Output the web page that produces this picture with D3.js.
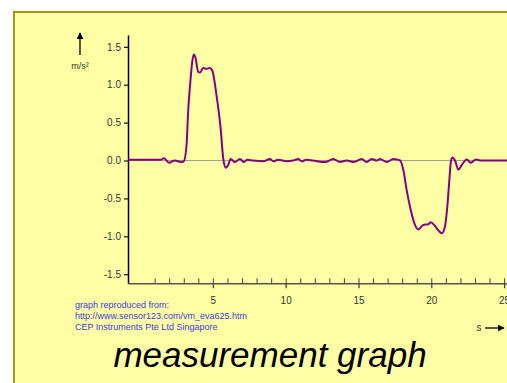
<!DOCTYPE html>
<html>
<head>
<meta charset="utf-8">
<script src="https://cdn.jsdelivr.net/npm/d3@7"></script>
<style>
  html, body { margin: 0; padding: 0; background: #fff; }
  svg { display: block; font-family: "Liberation Sans", Arial, sans-serif; }
</style>
</head>
<body>
<div id="chart"></div>
<script>
// time (s) and acceleration (m/s²)
const time = [-0.83, 1.4, 1.65, 1.98, 2.39, 2.8, 3.0, 3.19, 3.3, 3.47, 3.58, 3.69, 3.8, 3.99, 4.11,
  4.33, 4.57, 4.79, 4.95, 5.25, 5.53, 5.71, 5.89, 6.05, 6.22, 6.51, 6.86, 7.13, 7.36, 7.75,
  8.46, 8.92, 9.15, 9.49, 10.06, 10.5, 10.86, 11.1, 11.44, 11.87, 12.7, 13.27, 13.73, 14.19,
  14.64, 15.22, 15.56, 15.91, 16.25, 16.48, 16.94, 17.39, 17.86, 18.08, 18.31, 18.54, 18.88,
  19.11, 19.45, 19.8, 19.96, 20.26, 20.48, 20.72, 20.94, 21.1, 21.24, 21.36, 21.47, 21.63,
  21.86, 22.09, 22.44, 22.71, 23.08, 23.35, 25.2];
const accel = [0.01, 0.01, 0.03, -0.03, 0.0, -0.02, -0.01, 0.2, 0.64, 1.08, 1.30, 1.40, 1.36, 1.17, 1.16,
  1.22, 1.21, 1.22, 1.19, 0.86, 0.43, 0.03, -0.095, -0.06, 0.02, -0.02, 0.02, -0.02, 0.01, 0.0,
  -0.01, 0.02, -0.01, 0.01, -0.01, 0.0, 0.02, -0.01, 0.01, 0.0, -0.02, 0.02, -0.02, 0.0,
  -0.02, 0.02, -0.02, 0.02, 0.0, 0.02, -0.02, 0.02, 0.0, -0.125, -0.39, -0.61, -0.85,
  -0.91, -0.85, -0.84, -0.815, -0.865, -0.92, -0.96, -0.87, -0.61, -0.26, 0.0, 0.04, 0.0,
  -0.12, -0.06, 0.015, -0.03, 0.015, 0.0, 0.0];

const yTicks = [-1.5, -1.0, -0.5, 0.0, 0.5, 1.0, 1.5];
const xMajor = [5, 10, 15, 20, 25];
const xMinor = [1, 2, 3, 4, 6, 7, 8, 9, 11, 12, 13, 14, 16, 17, 18, 19, 21, 22, 23, 24];
const sourceLines = ["graph reproduced from:", "http://www.sensor123.com/vm_eva625.htm", "CEP Instruments Pte Ltd Singapore"];

const width = 507, height = 383;

const svg = d3.select('#chart').append('svg')
  .attr('width', width)
  .attr('height', height);

svg.append('defs').append('marker')
  .attr('id', 'arr')
  .attr('viewBox', '0 0 10 10')
  .attr('refX', 9).attr('refY', 5)
  .attr('markerWidth', 7).attr('markerHeight', 7)
  .attr('markerUnits', 'userSpaceOnUse')
  .attr('orient', 'auto')
  .append('path').attr('d', 'M0,0L10,5L0,10Z').attr('fill', '#000');

// yellow panel
svg.append('rect')
  .attr('x', 14).attr('y', 12)
  .attr('width', 520).attr('height', 400)
  .attr('fill', '#ffffa6')
  .attr('stroke', '#9c9c1c')
  .attr('stroke-width', 2);

const x = d3.scaleLinear().domain([-0.83, 25.2]).range([128, 507]);
const y = d3.scaleLinear().domain([-1.62, 1.656]).range([283.3, 35]);

// zero line
svg.append('line')
  .attr('x1', x(-0.83)).attr('x2', width)
  .attr('y1', y(0)).attr('y2', y(0))
  .attr('stroke', '#a0a0a0').attr('stroke-width', 1.2);

// y axis
const yAxis = svg.append('g')
  .attr('transform', 'translate(128,0)')
  .call(d3.axisLeft(y).tickValues(yTicks).tickSize(4).tickSizeOuter(0).tickPadding(3)
    .tickFormat(d => d.toFixed(1)));
yAxis.select('.domain').attr('stroke', '#000').attr('stroke-width', 1.5);
yAxis.selectAll('.tick line').attr('stroke', '#222').attr('stroke-width', 1.3);
yAxis.selectAll('text').attr('font-size', 10).attr('fill', '#333')
  .attr('font-family', '"Liberation Sans", Arial, sans-serif');

// x axis: majors cross the line, minors stand above it
const xAxisY = 283.3;
const xMin = svg.append('g')
  .attr('transform', `translate(0,${xAxisY})`)
  .call(d3.axisTop(x).tickValues(xMinor.concat(xMajor)).tickSize(5).tickSizeOuter(0).tickFormat(''));
xMin.select('.domain').attr('stroke', '#555').attr('stroke-width', 1.5);
xMin.selectAll('.tick line').attr('stroke', '#444').attr('stroke-width', 1);

const xMaj = svg.append('g')
  .attr('transform', `translate(0,${xAxisY})`)
  .call(d3.axisBottom(x).tickValues(xMajor).tickSize(5).tickSizeOuter(0).tickPadding(9));
xMaj.select('.domain').remove();
xMaj.selectAll('.tick line').attr('stroke', '#444').attr('stroke-width', 1.3);
xMaj.selectAll('text').attr('font-size', 10).attr('fill', '#333')
  .attr('font-family', '"Liberation Sans", Arial, sans-serif');

// curve
const pts = time.map((t, i) => [t, accel[i]]);
svg.append('path')
  .datum(pts)
  .attr('fill', 'none')
  .attr('stroke', '#820082')
  .attr('stroke-width', 2)
  .attr('stroke-linejoin', 'round')
  .attr('d', d3.line().x(d => x(d[0])).y(d => y(d[1])).curve(d3.curveMonotoneX));

// y unit with arrow
svg.append('line')
  .attr('x1', 80).attr('x2', 80).attr('y1', 55).attr('y2', 33)
  .attr('stroke', '#000').attr('stroke-width', 1.3)
  .attr('marker-end', 'url(#arr)');
svg.append('text')
  .attr('x', 80).attr('y', 69)
  .attr('text-anchor', 'middle')
  .attr('font-size', 9).attr('fill', '#333')
  .text('m/s²');

// x unit with arrow
svg.append('text')
  .attr('x', 479).attr('y', 331)
  .attr('text-anchor', 'middle')
  .attr('font-size', 10).attr('fill', '#333')
  .text('s');
svg.append('line')
  .attr('x1', 485).attr('x2', 504).attr('y1', 328).attr('y2', 328)
  .attr('stroke', '#000').attr('stroke-width', 1.3)
  .attr('marker-end', 'url(#arr)');

// source note
svg.append('g').selectAll('text')
  .data(sourceLines)
  .enter().append('text')
  .attr('x', 75)
  .attr('y', (d, i) => 308 + i * 11)
  .attr('font-size', 9)
  .attr('fill', '#3a3ad8')
  .text(d => d);

// title
svg.append('text')
  .attr('x', 270).attr('y', 367)
  .attr('text-anchor', 'middle')
  .attr('font-size', 35)
  .attr('font-style', 'italic')
  .attr('fill', '#000')
  .text('measurement graph');
</script>
</body>
</html>
